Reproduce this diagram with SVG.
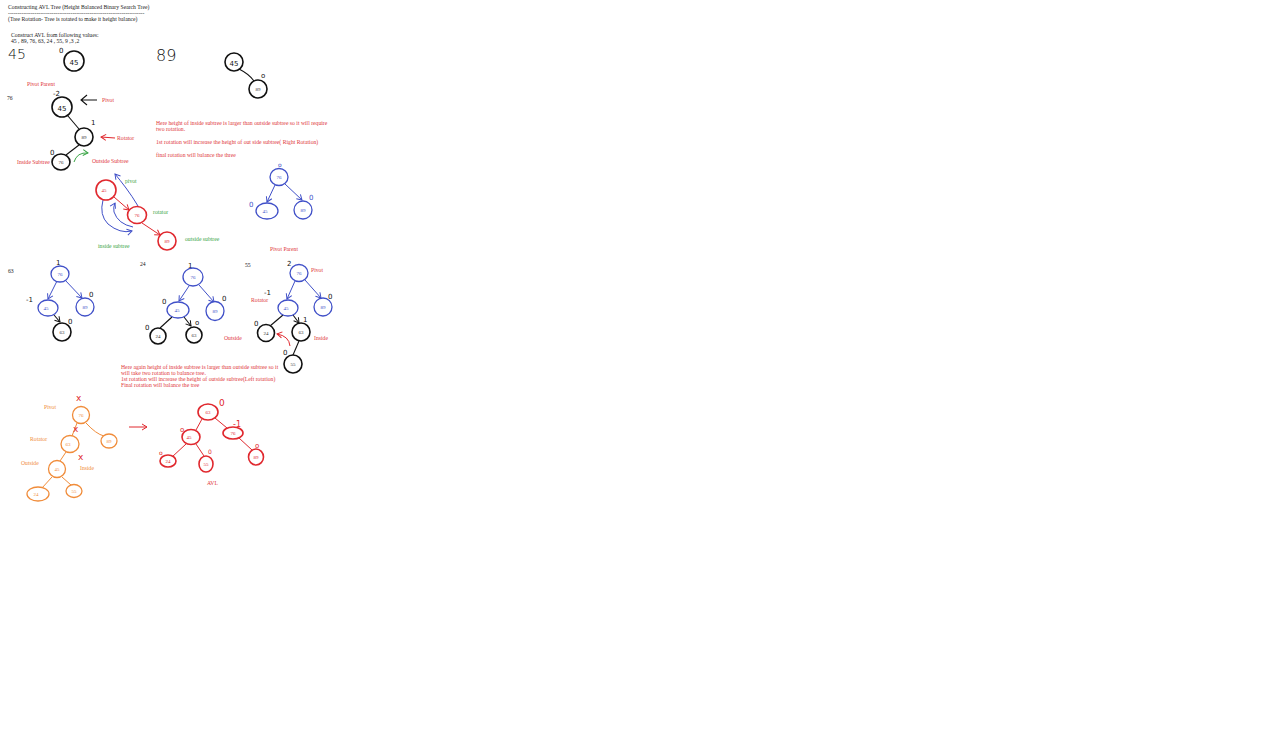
<svg xmlns="http://www.w3.org/2000/svg" width="1280" height="753" viewBox="0 0 1280 753">
<style>
.t{font-family:"Liberation Serif",serif;font-size:5.7px;fill:#222}
.r{font-family:"Liberation Serif",serif;font-size:5.7px;fill:#e0363a}
.g{font-family:"Liberation Serif",serif;font-size:5.7px;fill:#3aa545}
.o{font-family:"Liberation Serif",serif;font-size:5.7px;fill:#f08c3a}
.h{font-family:"DejaVu Sans",sans-serif;font-weight:200;fill:#111}
.nl{font-family:"Liberation Serif",serif;font-size:5px;text-anchor:middle}
.nb{fill:#fff;stroke:#111;stroke-width:1.6}
.nB{fill:#fff;stroke:#4050c8;stroke-width:1.3}
.nR{fill:#fff;stroke:#e0282e;stroke-width:1.6}
.nO{fill:#fff;stroke:#f08c3a;stroke-width:1.3}
.lb{fill:none;stroke:#111;stroke-width:1.1}
.lB{fill:none;stroke:#4050c8;stroke-width:1}
.lR{fill:none;stroke:#e0282e;stroke-width:1}
.lO{fill:none;stroke:#f08c3a;stroke-width:1}
.lG{fill:none;stroke:#3aa545;stroke-width:1}
.hs{font-family:"DejaVu Sans",sans-serif;font-size:7px;fill:#111}
</style>
<defs>
<marker id="aB" markerWidth="8" markerHeight="8" refX="6" refY="4" orient="auto" markerUnits="userSpaceOnUse"><path d="M1,1 L6,4 L1,7" fill="none" stroke="#4050c8" stroke-width="1"/></marker>
<marker id="aR" markerWidth="8" markerHeight="8" refX="6" refY="4" orient="auto" markerUnits="userSpaceOnUse"><path d="M1,1 L6,4 L1,7" fill="none" stroke="#e0282e" stroke-width="1"/></marker>
<marker id="ab" markerWidth="8" markerHeight="8" refX="6" refY="4" orient="auto" markerUnits="userSpaceOnUse"><path d="M1,1 L6,4 L1,7" fill="none" stroke="#111" stroke-width="1"/></marker>
<marker id="aG" markerWidth="8" markerHeight="8" refX="6" refY="4" orient="auto" markerUnits="userSpaceOnUse"><path d="M1,1 L6,4 L1,7" fill="none" stroke="#3aa545" stroke-width="1"/></marker>
</defs>
<rect width="1280" height="753" fill="#fff"/>

<g id="header">
<text class="t" x="8" y="8.5">Constructing AVL Tree (Height Balanced Binary Search Tree)</text>
<text class="t" x="8" y="14.5">------------------------------------------------------------------------</text>
<text class="t" x="8" y="21">(Tree Rotation- Tree is rotated to make it height balance)</text>
<text class="t" x="11" y="36.5">Construct AVL from following values:</text>
<text class="t" x="11" y="43">45 , 89, 76, 63, 24 , 55, 9 ,3 ,2</text>
</g>

<g id="connectors">
<path class="lb" d="M239,69 Q249,74 254,81"/>
<path class="lb" d="M68,116 L79,129"/>
<path class="lb" d="M79,145 L66,155"/>
<path class="lb" d="M97,100 L81,100 M87,95 L81,100 L87,105"/>
<path fill="none" stroke="#e0282e" stroke-width="1.1" d="M115,138 L101,137" marker-end="url(#aR)"/>
<path class="lG" d="M74,162 Q77,152 88,153" marker-end="url(#aG)"/>
<path class="lR" d="M114,197 L129,210" marker-end="url(#aR)"/>
<path class="lR" d="M142,223 L160,235" marker-end="url(#aR)"/>
<path class="lB" d="M138,206 Q132,196 126,188 Q120,180 115,174" marker-end="url(#aB)"/>
<path class="lB" d="M103,200 Q99,215 108,224 Q120,234 132,231" marker-end="url(#aB)"/>
<path class="lB" d="M133,227 Q118,224 114,212 Q113,207 115,203" marker-end="url(#aB)"/>
<path class="lB" d="M275,185 L267,202" marker-end="url(#aB)"/>
<path class="lB" d="M285,184 L302,200" marker-end="url(#aB)"/>
<path class="lB" d="M57,281 L48,299" marker-end="url(#aB)"/>
<path class="lB" d="M65,280 L82,298" marker-end="url(#aB)"/>
<path class="lb" d="M54,315 L60,322" marker-end="url(#ab)"/>
<path class="lB" d="M189,286 L179,301" marker-end="url(#aB)"/>
<path class="lB" d="M199,285 L214,302" marker-end="url(#aB)"/>
<path class="lb" d="M172,317 L160,328"/>
<path class="lb" d="M184,317 L191,326" marker-end="url(#ab)"/>
<path class="lB" d="M295,281 L287,299" marker-end="url(#aB)"/>
<path class="lB" d="M305,280 L321,298" marker-end="url(#aB)"/>
<path class="lb" d="M283,315 L270,326"/>
<path class="lb" d="M293,315 L299,323" marker-end="url(#ab)"/>
<path class="lb" d="M299,341 L293,355"/>
<path class="lR" d="M290,346 Q289,336 277,334" marker-end="url(#aR)"/>
<path class="lO" d="M86,423 Q96,434 104,436"/>
<path class="lO" d="M77,423 L72,436"/>
<path class="lO" d="M66,452 L60,461"/>
<path class="lO" d="M52,477 L42,488"/>
<path class="lO" d="M62,477 L71,485"/>
<path class="lR" d="M129,427 L147,427" marker-end="url(#aR)"/>
<path class="lR" d="M202,419 L196,430"/>
<path class="lR" d="M215,418 L227,428"/>
<path class="lR" d="M186,444 L172,457"/>
<path class="lR" d="M196,444 L204,456"/>
<path class="lR" d="M239,438 L252,450"/>
</g>

<g id="annotations">
<text class="h" x="8" y="59" font-size="14">45</text>
<text class="h" x="156" y="61" font-size="16">89</text>
<text class="hs" x="59" y="53" font-size="5">0</text>
<text class="hs" x="227" y="58" font-size="8">-1</text>
<text class="hs" x="261" y="78" font-size="6">o</text>
<text class="r" x="27" y="86">Pivot Parent</text>
<text class="t" x="7" y="100">76</text>
<text class="hs" x="53" y="96" font-size="11">-2</text>
<text class="r" x="102" y="102">Pivot</text>
<text class="hs" x="91" y="125" font-size="8">1</text>
<text class="r" x="117" y="140">Rotator</text>
<text class="hs" x="50" y="155" font-size="7">0</text>
<text class="r" x="17" y="164">Inside Subtree</text>
<text class="r" x="92" y="163">Outside Subtree</text>
<text class="g" x="125" y="183">pivot</text>
<text class="g" x="153" y="214">rotator</text>
<text class="g" x="185" y="241">outside subtree</text>
<text class="g" x="98" y="248">inside subtree</text>
<text class="r" x="156" y="125">Here height of inside subtree is larger than outside subtree so it will require</text>
<text class="r" x="156" y="131">two rotation.</text>
<text class="r" x="156" y="144">1st rotation will increase the height of out side subtree( Right Rotation)</text>
<text class="r" x="156" y="157">final rotation will balance the three</text>
<text x="278" y="167" font-family="DejaVu Sans,sans-serif" font-size="6" fill="#4050c8">o</text>
<text x="249" y="207" font-family="DejaVu Sans,sans-serif" font-size="7" fill="#4050c8">0</text>
<text x="309" y="200" font-family="DejaVu Sans,sans-serif" font-size="7" fill="#4050c8">0</text>
<text class="r" x="270" y="251">Pivot Parent</text>
<text class="t" x="8" y="273">63</text>
<text class="hs" x="56" y="265" font-size="7">1</text>
<text class="hs" x="26" y="302" font-size="8">-1</text>
<text class="hs" x="89" y="297" font-size="7">0</text>
<text class="hs" x="68" y="324" font-size="6">0</text>
<text class="t" x="140" y="266">24</text>
<text class="hs" x="188" y="268" font-size="6">1</text>
<text class="hs" x="162" y="304" font-size="6">0</text>
<text class="hs" x="222" y="301" font-size="7">0</text>
<text class="hs" x="145" y="330" font-size="7">0</text>
<text class="hs" x="195" y="325" font-size="6">o</text>
<text class="t" x="245" y="267">55</text>
<text class="hs" x="287" y="266" font-size="10">2</text>
<text class="r" x="311" y="272">Pivot</text>
<text class="hs" x="264" y="295" font-size="8">-1</text>
<text class="r" x="251" y="302">Rotator</text>
<text class="hs" x="328" y="299" font-size="8">0</text>
<text class="hs" x="254" y="326" font-size="7">0</text>
<text class="hs" x="303" y="322" font-size="6">1</text>
<text class="r" x="224" y="340">Outside</text>
<text class="r" x="314" y="340">Inside</text>
<text class="hs" x="283" y="355" font-size="7">0</text>
<text class="r" x="121" y="369">Here again height of inside subtree is larger than outside subtree so it</text>
<text class="r" x="121" y="375">will take two rotation to balance tree.</text>
<text class="r" x="121" y="381">1st rotation will increase the height of outside subtree(Left rotation)</text>
<text class="r" x="121" y="387">Final rotation will balance the tree</text>
<text class="o" x="44" y="409">Pivot</text>
<text class="o" x="30" y="441">Rotator</text>
<text class="o" x="21" y="465">Outside</text>
<text class="o" x="80" y="470">Inside</text>
<text x="76" y="401" font-family="DejaVu Sans,sans-serif" font-size="9" fill="#e0282e">x</text>
<text x="73" y="432" font-family="DejaVu Sans,sans-serif" font-size="9" fill="#e0282e">x</text>
<text x="78" y="460" font-family="DejaVu Sans,sans-serif" font-size="9" fill="#e0282e">x</text>
<text x="219" y="406" font-family="DejaVu Sans,sans-serif" font-size="9" fill="#e0282e">0</text>
<text x="180" y="432" font-family="DejaVu Sans,sans-serif" font-size="7" fill="#e0282e">o</text>
<text x="233" y="427" font-family="DejaVu Sans,sans-serif" font-size="8" fill="#e0282e">-1</text>
<text x="255" y="448" font-family="DejaVu Sans,sans-serif" font-size="7" fill="#e0282e">o</text>
<text x="159" y="455" font-family="DejaVu Sans,sans-serif" font-size="6" fill="#e0282e">o</text>
<text x="208" y="454" font-family="DejaVu Sans,sans-serif" font-size="6" fill="#e0282e">0</text>
<text class="r" x="207" y="485">AVL</text>
</g>

<g id="n45a"><circle class="nb" cx="74" cy="61" r="10"/><text class="hs" x="74" y="65" font-size="11" text-anchor="middle">45</text></g>
<g id="n45b"><circle class="nb" cx="234" cy="62" r="9"/><text class="hs" x="234" y="65.5" font-size="9" text-anchor="middle">45</text></g>
<g id="n89b"><circle class="nb" cx="258" cy="89" r="9"/><text class="nl" x="258" y="91" fill="#333">89</text></g>

<g id="n45c"><circle class="nb" cx="62" cy="107" r="10"/><text class="hs" x="62" y="111" font-size="11" text-anchor="middle">45</text></g>
<g id="n89c"><circle class="nb" cx="84" cy="137" r="9"/><text class="nl" x="84" y="139" fill="#333">89</text></g>
<g id="n76c"><ellipse class="nb" cx="61" cy="162" rx="9" ry="8"/><text class="nl" x="61" y="164" fill="#333">76</text></g>

<g id="r45"><circle class="nR" cx="106" cy="190" r="10"/><text class="nl" x="104" y="192" fill="#e0282e">45</text></g>
<g id="r76"><ellipse class="nR" cx="137" cy="215" rx="9.5" ry="8.5"/><text class="nl" x="137" y="217" fill="#e0282e">76</text></g>
<g id="r89"><circle class="nR" cx="167" cy="241" r="9"/><text class="nl" x="167" y="243" fill="#e0282e">89</text></g>

<g id="b76"><ellipse class="nB" cx="279" cy="177" rx="9" ry="8.5"/><text class="nl" x="279" y="179" fill="#4050c8">76</text></g>
<g id="b45"><ellipse class="nB" cx="267" cy="211" rx="11" ry="8"/><text class="nl" x="265" y="213" fill="#4050c8">45</text></g>
<g id="b89"><circle class="nB" cx="303" cy="210" r="9"/><text class="nl" x="303" y="212" fill="#4050c8">89</text></g>

<g id="s63_76"><ellipse class="nB" cx="60" cy="274" rx="9" ry="8"/><text class="nl" x="60" y="276" fill="#4050c8">76</text></g>
<g id="s63_45"><ellipse class="nB" cx="48" cy="308" rx="10" ry="8"/><text class="nl" x="46" y="310" fill="#4050c8">45</text></g>
<g id="s63_89"><circle class="nB" cx="85" cy="307" r="9"/><text class="nl" x="85" y="309" fill="#4050c8">89</text></g>
<g id="s63_63"><circle class="nb" cx="62" cy="332" r="9"/><text class="nl" x="62" y="334" fill="#333">63</text></g>

<g id="s24_76"><ellipse class="nB" cx="193" cy="277" rx="10" ry="9"/><text class="nl" x="193" y="279" fill="#4050c8">76</text></g>
<g id="s24_45"><ellipse class="nB" cx="178" cy="310" rx="11" ry="8"/><text class="nl" x="177" y="312" fill="#4050c8">45</text></g>
<g id="s24_89"><ellipse class="nB" cx="215" cy="311" rx="9" ry="9.5"/><text class="nl" x="215" y="313" fill="#4050c8">89</text></g>
<g id="s24_24"><circle class="nb" cx="158" cy="336" r="8"/><text class="nl" x="158" y="338" fill="#333">24</text></g>
<g id="s24_63"><circle class="nb" cx="194" cy="335" r="8"/><text class="nl" x="194" y="337" fill="#333">63</text></g>

<g id="s55_76"><ellipse class="nB" cx="299" cy="273" rx="9" ry="8.5"/><text class="nl" x="299" y="275" fill="#4050c8">76</text></g>
<g id="s55_45"><ellipse class="nB" cx="288" cy="308" rx="10" ry="8"/><text class="nl" x="286" y="310" fill="#4050c8">45</text></g>
<g id="s55_89"><ellipse class="nB" cx="323" cy="307" rx="9" ry="9"/><text class="nl" x="323" y="309" fill="#4050c8">89</text></g>
<g id="s55_24"><circle class="nb" cx="266" cy="333" r="8.5"/><text class="nl" x="266" y="335" fill="#333">24</text></g>
<g id="s55_63"><circle class="nb" cx="301" cy="332" r="9"/><text class="nl" x="301" y="334" fill="#333">63</text></g>
<g id="s55_55"><circle class="nb" cx="293" cy="364" r="9"/><text class="nl" x="293" y="366" fill="#333">55</text></g>

<g id="o76"><circle class="nO" cx="81" cy="415" r="8.5"/><text class="nl" x="81" y="417" fill="#f08c3a">76</text></g>
<g id="o89"><ellipse class="nO" cx="109" cy="441" rx="8" ry="7"/><text class="nl" x="109" y="443" fill="#f08c3a">89</text></g>
<g id="o63"><ellipse class="nO" cx="70" cy="444" rx="9" ry="8.5"/><text class="nl" x="68" y="446" fill="#f08c3a">63</text></g>
<g id="o45"><circle class="nO" cx="57" cy="469" r="8.5"/><text class="nl" x="57" y="471" fill="#f08c3a">45</text></g>
<g id="o24"><ellipse class="nO" cx="38" cy="494" rx="11" ry="7"/><text class="nl" x="36" y="496" fill="#f08c3a">24</text></g>
<g id="o55"><ellipse class="nO" cx="74" cy="491" rx="8" ry="6.5"/><text class="nl" x="74" y="493" fill="#f08c3a">55</text></g>

<g id="a63"><ellipse class="nR" cx="208" cy="412" rx="10" ry="8"/><text class="nl" x="208" y="414" fill="#e0282e">63</text></g>
<g id="a45"><ellipse class="nR" cx="191" cy="437" rx="9" ry="7.5"/><text class="nl" x="189" y="439" fill="#e0282e">45</text></g>
<g id="a76"><ellipse class="nR" cx="233" cy="433" rx="10" ry="6"/><text class="nl" x="233" y="435" fill="#e0282e">76</text></g>
<g id="a89"><ellipse class="nR" cx="256" cy="457" rx="7.5" ry="8"/><text class="nl" x="256" y="459" fill="#e0282e">89</text></g>
<g id="a24"><ellipse class="nR" cx="168" cy="461" rx="8" ry="6"/><text class="nl" x="168" y="463" fill="#e0282e">24</text></g>
<g id="a55"><ellipse class="nR" cx="206" cy="464" rx="7" ry="8"/><text class="nl" x="206" y="466" fill="#e0282e">55</text></g>
</svg>
